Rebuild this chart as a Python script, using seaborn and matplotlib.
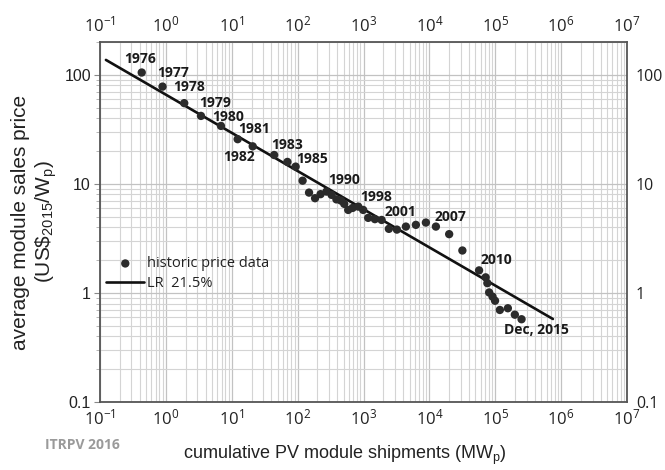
import numpy as np
import pandas as pd
import matplotlib
matplotlib.use("Agg")
import matplotlib.pyplot as plt
import seaborn as sns
from matplotlib.ticker import LogLocator, FixedLocator, NullFormatter, FixedFormatter

# ---- data ----
shipments = [0.43, 0.89, 1.90, 3.41, 6.86, 12.3, 20.8, 44.0, 70.0, 93.3,
             119, 149, 184, 223, 274, 328, 388, 454, 510, 586,
             684, 832, 989, 1178, 1489, 1884, 2427, 3213, 4400, 6237,
             8851, 12560, 19970, 31700, 56800, 71500, 75900, 80800, 91000, 99300,
             117500, 155400, 198300, 250700]
prices = [105, 78, 55, 42, 34, 25.7, 22.1, 18.4, 15.9, 14.4,
          10.7, 8.32, 7.39, 8.05, 8.50, 7.93, 7.21, 7.03, 6.56, 5.77,
          6.02, 6.19, 5.77, 4.88, 4.75, 4.67, 3.87, 3.81, 4.06, 4.21,
          4.42, 4.06, 3.46, 2.45, 1.61, 1.39, 1.23, 1.01, 0.925, 0.848,
          0.698, 0.724, 0.632, 0.574]
lr_x = [0.123, 7.5e5]
lr_y = [137, 0.577]
year_idx = [0, 1, 2, 3, 4, 5, 6, 7, 9, 14, 22, 25, 31, 34, 43]
year_text = ["1976", "1977", "1978", "1979", "1980", "1981", "1982", "1983",
             "1985", "1990", "1998", "2001", "2007", "2010", "Dec, 2015"]
x_tick_vals = [1e-1, 1e0, 1e1, 1e2, 1e3, 1e4, 1e5, 1e6, 1e7]
x_tick_text = [r"$\mathregular{10^{-1}}$", r"$\mathregular{10^{0}}$", r"$\mathregular{10^{1}}$",
               r"$\mathregular{10^{2}}$", r"$\mathregular{10^{3}}$", r"$\mathregular{10^{4}}$",
               r"$\mathregular{10^{5}}$", r"$\mathregular{10^{6}}$", r"$\mathregular{10^{7}}$"]
y_tick_vals = [0.1, 1, 10, 100]
y_tick_text = ["0.1", "1", "10", "100"]

# label offsets in pixels (styling)
label_offsets = [(-2, 14), (11, 14), (5, 16), (14, 13), (7, 9), (16, 10), (-14, -11),
                 (13, 10), (16, 8), (17.5, 12), (12.7, 13), (19, 8), (14.5, 9.7),
                 (17, 10), (15, -11)]

sns.set_theme(style="white")
plt.rcParams["font.family"] = ["Open Sans", "DejaVu Sans"]
plt.rcParams["mathtext.default"] = "regular"

fig = plt.figure(figsize=(6.65, 4.70), dpi=100)
ax = fig.add_axes([100 / 665, 1 - 402 / 470, 527 / 665, 360 / 470])

df = pd.DataFrame({"x": shipments, "y": prices})
lr = pd.DataFrame({"x": lr_x, "y": lr_y})

sns.scatterplot(data=df, x="x", y="y", ax=ax, s=36, color="#2b2b2b",
                edgecolor="none", label="historic price data", zorder=4)
sns.lineplot(data=lr, x="x", y="y", ax=ax, color="#111111", linewidth=1.9,
             label="LR  21.5%", zorder=3)

ax.set_xscale("log")
ax.set_yscale("log")
ax.set_xlim(0.1, 1e7)
ax.set_ylim(0.1, 200)

ax.xaxis.set_major_locator(FixedLocator(x_tick_vals))
ax.xaxis.set_major_formatter(FixedFormatter(x_tick_text))
ax.xaxis.set_minor_locator(LogLocator(base=10, subs=np.arange(2, 10), numticks=20))
ax.xaxis.set_minor_formatter(NullFormatter())
ax.yaxis.set_major_locator(FixedLocator(y_tick_vals))
ax.yaxis.set_major_formatter(FixedFormatter(y_tick_text))
ax.yaxis.set_minor_locator(LogLocator(base=10, subs=np.arange(2, 10), numticks=20))
ax.yaxis.set_minor_formatter(NullFormatter())

ax.grid(True, which="major", color="#c2c2c2", linewidth=0.9)
ax.grid(True, which="minor", color="#d4d4d4", linewidth=0.8)
ax.set_axisbelow(True)

ax.tick_params(axis="x", which="both", length=0, labelsize=12, colors="#222222",
               top=False, labeltop=True, bottom=False, labelbottom=True, pad=5)
ax.tick_params(axis="y", which="major", length=4, width=0.8, color="#888888", direction="out",
               labelsize=11.5, labelcolor="#222222", left=True, right=False,
               labelleft=True, labelright=True, pad=2.5)
ax.tick_params(axis="y", which="minor", length=3, width=0.6, color="#aaaaaa",
               direction="out", left=True, right=False)
for t in ax.yaxis.get_major_ticks():
    t.label1.set_fontfamily(["Liberation Sans", "DejaVu Sans"])

for sp in ax.spines.values():
    sp.set_color("#555555")
    sp.set_linewidth(1.3)

# year labels
for i, txt, (dx, dy) in zip(year_idx, year_text, label_offsets):
    ax.annotate(txt, xy=(shipments[i], prices[i]), xytext=(dx, dy),
                textcoords="offset pixels", ha="center", va="center",
                fontsize=10, fontweight="bold", color="#1a1a1a", zorder=5)

ax.set_xlabel("cumulative PV module shipments (MW$_\\mathregular{p}$)",
              fontsize=13, family=["Liberation Sans", "DejaVu Sans"], color="#222222",
              va="center")
ax.xaxis.set_label_coords(0.465, -0.147)
ax.set_ylabel("average module sales price\n(US\\$$\\mathregular{_{2015}}$/W$\\mathregular{_p}$)",
              fontsize=15, family=["Liberation Sans", "DejaVu Sans"], color="#222222",
              va="center", linespacing=1.2)
ax.yaxis.set_label_coords(-0.124, 0.5)

leg = ax.legend(loc="center left", bbox_to_anchor=(0.012, 0.357), frameon=False,
                fontsize=10.5, handlelength=2.6, handletextpad=0.2, labelspacing=0.3,
                borderpad=0, borderaxespad=0)
for t in leg.get_texts():
    t.set_color("#222222")

fig.text(45 / 665, 1 - 445 / 470, "ITRPV 2016", fontsize=10, fontweight="bold",
         color="#9a9a9a", ha="left", va="center")

fig.savefig("out.png", dpi=100, facecolor="white")
